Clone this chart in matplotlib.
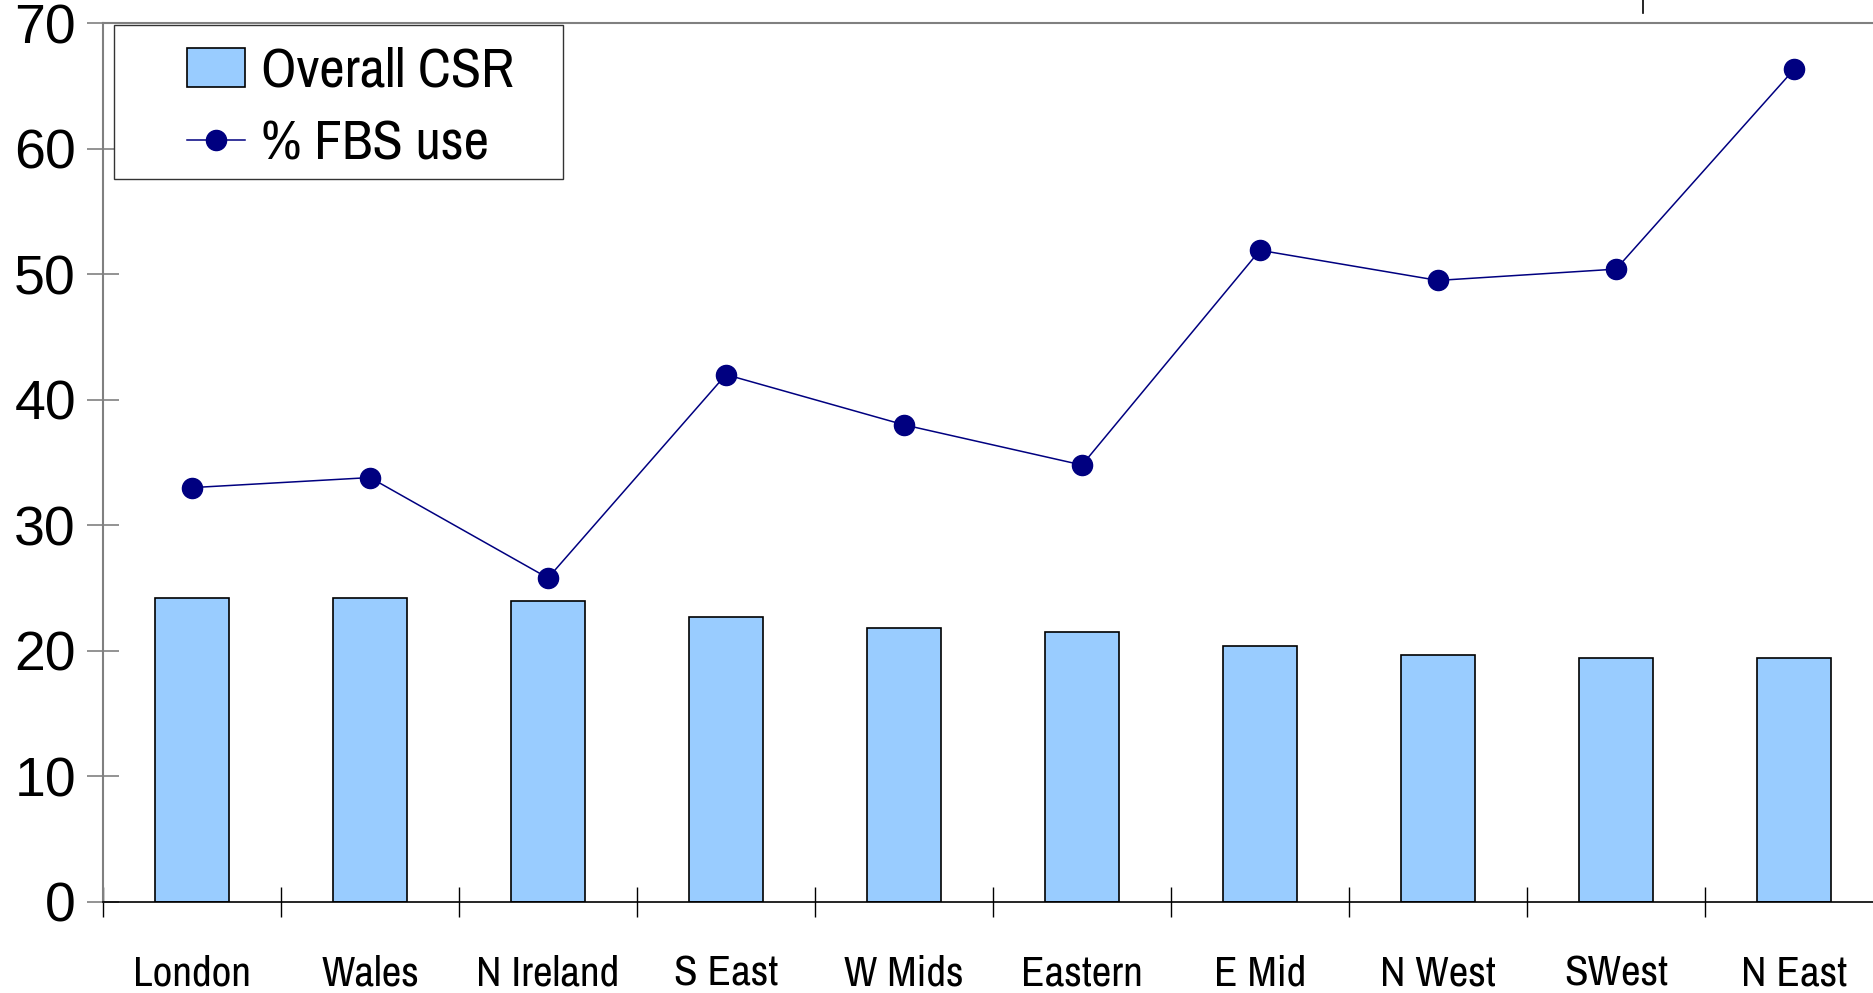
import matplotlib
matplotlib.use("Agg")
import matplotlib.pyplot as plt
from matplotlib.lines import Line2D
from matplotlib.patches import Rectangle
import numpy as np

# ---------------------------------------------------------------------------
# Data
# ---------------------------------------------------------------------------
regions = ["London", "Wales", "N Ireland", "S East", "W Mids",
           "Eastern", "E Mid", "N West", "SWest", "N East"]
overall_csr = [24.2, 24.2, 24.0, 22.7, 21.8, 21.5, 20.4, 19.7, 19.4, 19.4]
fbs_use     = [33.0, 33.8, 25.8, 42.0, 38.0, 34.8, 51.9, 49.5, 50.4, 66.3]
y_ticks = [0, 10, 20, 30, 40, 50, 60, 70]

# ---------------------------------------------------------------------------
# Style
# ---------------------------------------------------------------------------
BAR   = "#99CCFF"
NAVY  = "#000080"
GREY  = "#808080"
FRAME = "#333333"
NARROW = ["Archivo Narrow", "Roboto Condensed", "DejaVu Sans"]
WIDE   = ["Liberation Sans", "DejaVu Sans"]

W, H, DPI = 1873, 993, 100
fig = plt.figure(figsize=(W / DPI, H / DPI), dpi=DPI, facecolor="white")

# axes run a little past the right edge, as in the cropped original
ax_left, ax_bottom = 103 / W, 1 - 902 / H
ax_w, ax_h = 1780 / W, (902 - 23) / H
ax = fig.add_axes([ax_left, ax_bottom, ax_w, ax_h])

x = np.arange(len(regions))
bars = ax.bar(x, overall_csr, width=0.42, color=BAR, edgecolor="black",
              linewidth=1.2, zorder=2)
line, = ax.plot(x, fbs_use, color=NAVY, linewidth=1.1, marker="o",
                markersize=14.5, zorder=3)

ax.set_xlim(-0.5, len(regions) - 0.5)
ax.set_ylim(0, 70)

# y axis
ax.set_yticks(y_ticks)
ax.set_yticklabels([str(v) for v in y_ticks], family=WIDE, fontsize=40)
ax.tick_params(axis="y", direction="inout", length=23, width=1.2,
               color=GREY, pad=8)

# x axis: ticks on category boundaries, labels at centres
ax.set_xticks(np.arange(-0.5, len(regions) + 0.5, 1.0))
ax.set_xticklabels([])
ax.set_xticks(x, minor=True)
ax.set_xticklabels(regions, minor=True, family=NARROW, fontsize=31)
ax.tick_params(axis="x", which="major", direction="inout", length=22,
               width=1.0, color="black")
ax.tick_params(axis="x", which="minor", length=0, pad=38)

ax.spines["left"].set_color(GREY)
ax.spines["left"].set_linewidth(1.5)
ax.spines["top"].set_color(GREY)
ax.spines["top"].set_linewidth(1.5)
ax.spines["bottom"].set_color("black")
ax.spines["bottom"].set_linewidth(1.2)
ax.spines["right"].set_visible(False)

# legend: entries placed by the library, box drawn with wider side padding
leg = ax.legend([bars, line], ["Overall CSR", "% FBS use"],
                loc="center left", bbox_to_anchor=(187 / W, 1 - 108 / H),
                bbox_transform=fig.transFigure, frameon=False,
                prop={"family": NARROW, "size": 40},
                handlelength=1.04, handleheight=0.68, handletextpad=0.3,
                borderpad=0.0, labelspacing=0.4, borderaxespad=0.0)
leg.set_zorder(5)
ax.add_patch(Rectangle((114 / W, 1 - 179 / H), (563 - 114) / W, (179 - 25) / H,
                       transform=fig.transFigure, facecolor="white",
                       edgecolor=FRAME, linewidth=1.0, zorder=4, clip_on=False))

# stray tick of the neighbouring chart, above the frame
fig.add_artist(Line2D([1643 / W, 1643 / W], [1.0, 1 - 13 / H],
                      color="black", linewidth=1.2))

fig.savefig("out.png", dpi=DPI, facecolor="white")
